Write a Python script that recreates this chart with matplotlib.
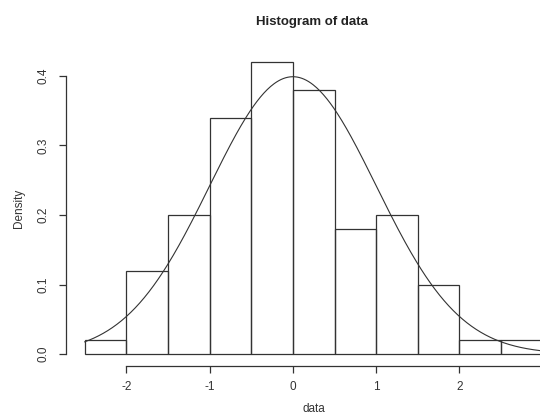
import numpy as np
import matplotlib
matplotlib.use("Agg")
import matplotlib.pyplot as plt

# Histogram of data: bin edges and density per bin
bin_edges = [-2.5, -2.0, -1.5, -1.0, -0.5, 0.0, 0.5, 1.0, 1.5, 2.0, 2.5, 3.0]
densities = [0.02, 0.12, 0.20, 0.34, 0.42, 0.38, 0.18, 0.20, 0.10, 0.02, 0.02]
x_ticks = [-2, -1, 0, 1, 2, 3]
x_tick_labels = ["-2", "-1", "0", "1", "2", "3"]
y_ticks = [0.0, 0.1, 0.2, 0.3, 0.4]
y_tick_labels = ["0.0", "0.1", "0.2", "0.3", "0.4"]
# overlaid normal density
mu, sigma = 0.0, 1.0

plt.rcParams["font.family"] = ["Liberation Sans", "DejaVu Sans"]
ink = "#333333"

fig = plt.figure(figsize=(5.4, 4.2), dpi=100)
ax = fig.add_axes([0.123, 0.1293, 0.916, 0.7507])

edges = np.array(bin_edges)
widths = np.diff(edges)
ax.bar(edges[:-1], densities, width=widths, align="edge",
       fill=False, edgecolor=ink, linewidth=0.9)

xs = np.linspace(edges[0], edges[-1], 400)
pdf = np.exp(-0.5 * ((xs - mu) / sigma) ** 2) / (sigma * np.sqrt(2 * np.pi))
ax.plot(xs, pdf, color=ink, linewidth=0.8)

# R-style axis ranges (4% padding)
xr = edges[-1] - edges[0]
ymax = max(densities)
ax.set_xlim(edges[0] - 0.04 * xr, edges[-1] + 0.04 * xr)
ax.set_ylim(-0.04 * ymax, ymax * 1.04)

for side in ("top", "right"):
    ax.spines[side].set_visible(False)
ax.spines["left"].set_bounds(y_ticks[0], y_ticks[-1])
ax.spines["bottom"].set_bounds(x_ticks[0], x_ticks[-1])
for side in ("left", "bottom"):
    ax.spines[side].set_color(ink)
    ax.spines[side].set_linewidth(0.9)

ax.set_xticks(x_ticks)
ax.set_xticklabels(x_tick_labels)
ax.set_yticks(y_ticks)
ax.set_yticklabels(y_tick_labels, rotation=90, va="center")
ax.tick_params(axis="both", direction="out", length=5, width=0.9,
               color=ink, labelcolor=ink, labelsize=8.5)
ax.tick_params(axis="x", pad=6)
ax.tick_params(axis="y", pad=7)

ax.set_xlabel("data", fontsize=8.5, color=ink, labelpad=7)
ax.set_ylabel("Density", fontsize=8.5, color=ink, labelpad=9)
fig.text(0.578, 0.948, "Histogram of data", ha="center", va="center",
         fontsize=9.5, fontweight="bold", color="#222222")

fig.savefig("out.png", dpi=100)
